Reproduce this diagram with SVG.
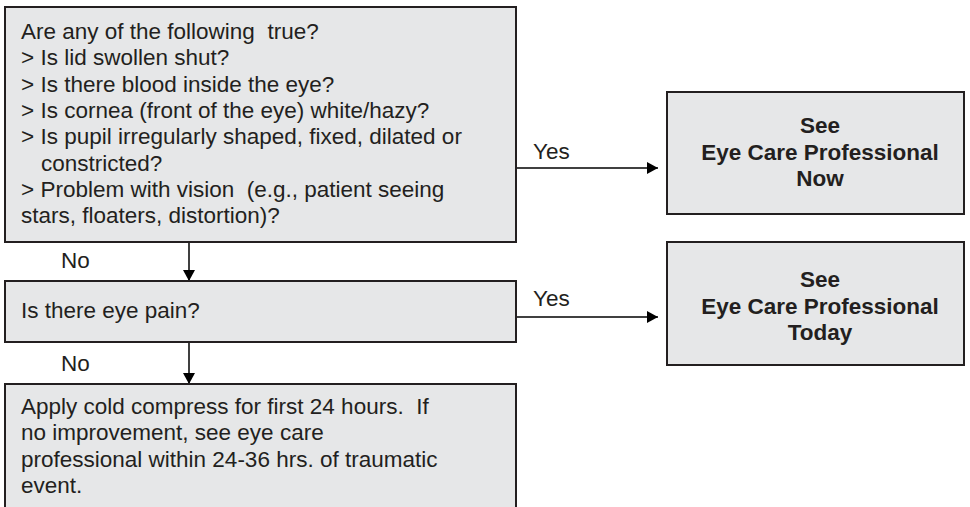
<svg xmlns="http://www.w3.org/2000/svg" width="970" height="507" viewBox="0 0 970 507">
<style>
.box{fill:#e6e7e8;stroke:#231f20;stroke-width:2}
.t{font-family:"Liberation Sans",Arial,sans-serif;font-size:22.5px;fill:#231f20;white-space:pre}
.b{font-weight:bold;text-anchor:middle}
.c{stroke:#000;stroke-width:1.5;fill:none}
</style>
<defs>
<marker id="ah" markerUnits="userSpaceOnUse" markerWidth="12" markerHeight="12" viewBox="0 0 12 12" refX="11" refY="6" orient="auto">
<path d="M0,0 L11,6 L0,12 Z" fill="#000"/>
</marker>
</defs>
<rect width="970" height="507" fill="#fff"/>
<g id="connectors">
<line class="c" x1="516" y1="168" x2="658" y2="168" marker-end="url(#ah)"/>
<line class="c" x1="516" y1="317" x2="658" y2="317" marker-end="url(#ah)"/>
<line class="c" x1="189" y1="242" x2="189" y2="281" marker-end="url(#ah)"/>
<line class="c" x1="189" y1="342" x2="189" y2="384" marker-end="url(#ah)"/>
<text class="t" x="533" y="159">Yes</text>
<text class="t" x="533" y="306">Yes</text>
<text class="t" x="61" y="268">No</text>
<text class="t" x="61" y="371">No</text>
</g>
<g id="q1">
<rect class="box" x="5" y="7" width="511" height="235"/>
<text class="t" x="21" y="39" xml:space="preserve">Are any of the following  true?</text>
<text class="t" x="21" y="65.3">&gt; Is lid swollen shut?</text>
<text class="t" x="21" y="91.6">&gt; Is there blood inside the eye?</text>
<text class="t" x="21" y="118">&gt; Is cornea (front of the eye) white/hazy?</text>
<text class="t" x="21" y="144.2">&gt; Is pupil irregularly shaped, fixed, dilated or</text>
<text class="t" x="41" y="170.5">constricted?</text>
<text class="t" x="21" y="196.8" xml:space="preserve">&gt; Problem with vision  (e.g., patient seeing</text>
<text class="t" x="21" y="223">stars, floaters, distortion)?</text>
</g>
<g id="q2">
<rect class="box" x="5" y="281" width="511" height="61"/>
<text class="t" x="21" y="318">Is there eye pain?</text>
</g>
<g id="advice">
<rect class="box" x="5" y="384" width="511" height="135"/>
<text class="t" x="21" y="414" xml:space="preserve">Apply cold compress for first 24 hours.  If</text>
<text class="t" x="21" y="440.3">no improvement, see eye care</text>
<text class="t" x="21" y="466.6">professional within 24-36 hrs. of traumatic</text>
<text class="t" x="21" y="493">event.</text>
</g>
<g id="now">
<rect class="box" x="667" y="92" width="297" height="122"/>
<text class="t b" x="820" y="133">See</text>
<text class="t b" x="820" y="159.5">Eye Care Professional</text>
<text class="t b" x="820" y="186">Now</text>
</g>
<g id="today">
<rect class="box" x="667" y="242" width="297" height="123"/>
<text class="t b" x="820" y="287">See</text>
<text class="t b" x="820" y="313.5">Eye Care Professional</text>
<text class="t b" x="820" y="340">Today</text>
</g>
</svg>
